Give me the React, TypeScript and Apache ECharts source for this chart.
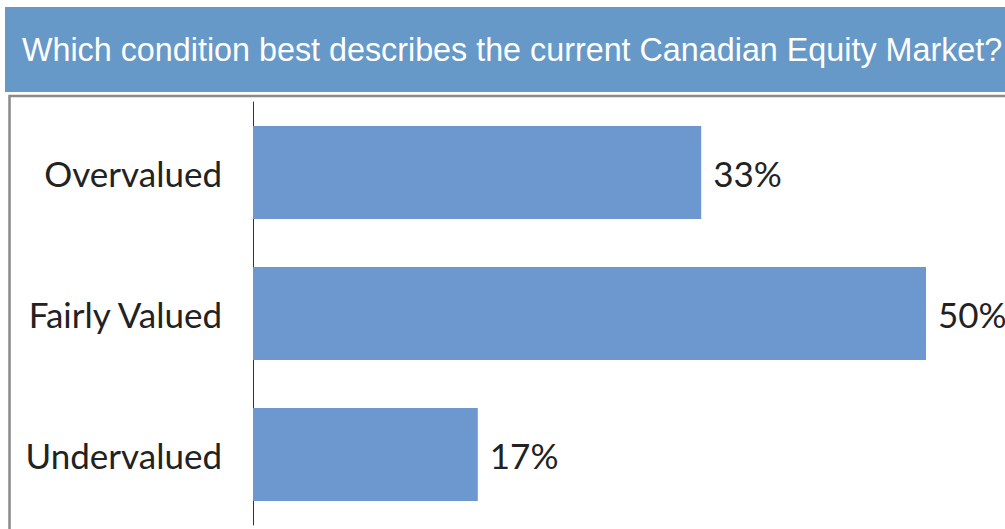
import React, { useEffect, useRef } from "react";
import * as echarts from "echarts";

const categories = ["Overvalued", "Fairly Valued", "Undervalued"];
const values = [33.3, 50, 16.7];
const titleText = "Which condition best describes the current Canadian Equity Market?";

export default function App() {
  const ref = useRef<HTMLDivElement>(null);
  useEffect(() => {
    if (!ref.current) return;
    const chart = echarts.init(ref.current, null, { renderer: "svg" });
    chart.setOption({
      animation: false,
      backgroundColor: "#ffffff",
      graphic: [
        { type: "rect", shape: { x: 5, y: 7, width: 1000, height: 85 }, style: { fill: "#6699c8" }, z: 0 },
        { type: "rect", shape: { x: 9.5, y: 96, width: 1000, height: 440 }, style: { fill: "none", stroke: "#8a8a8a", lineWidth: 2.5 }, z: 0 },
      ],
      title: {
        text: titleText,
        left: 17,
        top: 29,
        textStyle: { color: "#ffffff", fontFamily: "Liberation Sans", fontSize: 32.3, fontWeight: "normal" },
      },
      grid: { left: 253, right: 79, top: 102, bottom: 4, containLabel: false },
      xAxis: {
        type: "value",
        min: 0,
        max: 50,
        show: false,
      },
      yAxis: {
        type: "category",
        data: categories,
        inverse: true,
        axisLine: { show: true, lineStyle: { color: "#333333", width: 1 } },
        axisTick: { show: false },
        axisLabel: { margin: 31, fontFamily: "Lato", fontSize: 35, color: "#222222", padding: [0, 0, 5, 0] },
      },
      series: [
        {
          type: "bar",
          data: values,
          barCategoryGap: "34%",
          itemStyle: { color: "#6c97cf" },
          label: {
            show: true,
            position: "right",
            distance: 12,
            padding: [0, 0, 5, 0],
            formatter: (p: any) => Math.round(p.value) + "%",
            fontFamily: "Lato",
            fontSize: 35,
            color: "#222222",
          },
        },
      ],
    });
    return () => chart.dispose();
  }, []);
  return <div ref={ref} style={{ position: "fixed", left: 0, top: 0, width: 1005, height: 529 }} />;
}
